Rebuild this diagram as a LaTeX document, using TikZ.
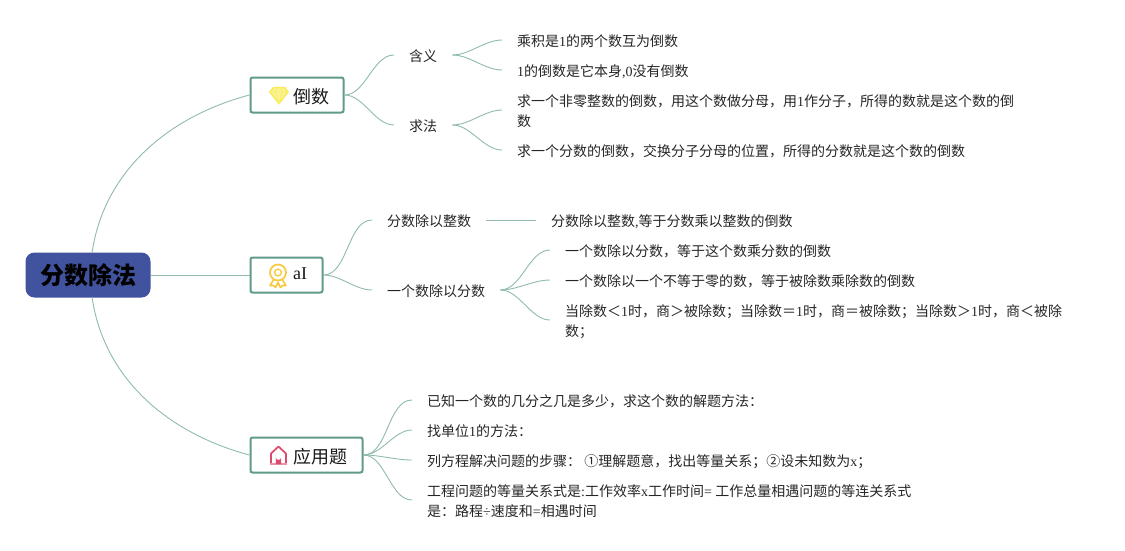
\documentclass[tikz,border=0pt]{standalone}
\usepackage{fontspec}
\setmainfont{Noto Sans CJK SC}
\newfontfamily\latfont{Liberation Serif}
\newcommand\la[1]{{\latfont #1}}
\definecolor{conn}{HTML}{8FBBAD}
\definecolor{boxline}{HTML}{5F9A8A}
\definecolor{rootfill}{HTML}{41539F}
\definecolor{gem}{HTML}{F8EC50}
\definecolor{medal}{HTML}{F8C93C}
\definecolor{house}{HTML}{DC4A6E}
\tikzset{
  txt/.style={font=\fontsize{14}{20}\selectfont,inner xsep=15pt,inner ysep=0pt,anchor=west,align=left,text=black!85},
  topic/.style={draw=boxline,line width=2pt,rounded corners=2pt,fill=white,minimum height=35pt,inner sep=0pt},
  rootbox/.style={fill=rootfill,rounded corners=9pt,minimum width=125pt,minimum height=45pt,inner sep=0pt,font=\fontsize{24}{26}\selectfont\bfseries,text=black},
  toplabel/.style={font=\fontsize{18}{20}\selectfont,anchor=west,inner sep=0pt,text=black!90},
  cn/.style={draw=conn,line width=0.9pt},
  s/.style={out=0,in=180,looseness=0.85}
}
\begin{document}
\begin{tikzpicture}[x=1pt,y=-1pt]
\useasboundingbox (0,0) rectangle (1125,550);
\node[rootbox] (root) at (88,275) {\raisebox{-1.5pt}{分数除法}};
\coordinate (rn) at (92,253);
\coordinate (rs) at (92,297);
\node[topic,minimum width=93pt] (t1) at (297,95) {};
\node[topic,minimum width=72pt] (t2) at (286.5,275) {};
\node[topic,minimum width=112pt] (t3) at (306.5,455) {};
\node[toplabel] (t1l) at (293,96.5) {倒数};
\node[toplabel] (t2l) at (293,273.5) {\latfont aI};
\node[toplabel] (t3l) at (293,456.5) {应用题};
% icons
\begin{scope}[shift={(279,95)}]
\draw[gem,line width=1.5pt,line join=round,fill=gem!60] (-5.5,-7.5) -- (5.5,-7.5) -- (9,-3) -- (0,8.5) -- (-9,-3) -- cycle;
\draw[gem!85!white,line width=0.9pt] (-9,-3) -- (9,-3) (-3.5,-3) -- (0,8.5) -- (3.5,-3) (-3.5,-3) -- (-1.5,-7.5) (3.5,-3) -- (1.5,-7.5);
\end{scope}
\begin{scope}[shift={(278,275)}]
\draw[medal,line width=1.6pt,line join=round] (-4,4) -- (-8,10.5) -- (-4.5,10.5) -- (-2.5,12.5) -- (0,7.5) -- (2.5,12.5) -- (4.5,10.5) -- (8,10.5) -- (4,4);
\draw[medal,line width=1.7pt,fill=white] (0,-2.5) circle (8);
\draw[medal,line width=1.3pt] (0,-2.5) circle (3.4);
\end{scope}
\begin{scope}[shift={(278.5,455)}]
\draw[house,line width=1.7pt,line join=round] (-7.5,8.5) -- (-7.5,-1.5) -- (0,-8.5) -- (7.5,-1.5) -- (7.5,8.5);
\draw[house!60,line width=1.7pt] (-8.3,8.8) -- (8.3,8.8);
\fill[house] (-2.6,9) -- (-2.6,2.4) arc[start angle=180,end angle=0,radius=2.6] -- (2.6,9) -- cycle;
\end{scope}
% level 2
\node[txt] (a1) at (394,56.5) {含义};
\node[txt] (a2) at (394,126.5) {求法};
\node[txt] (b1) at (372,221.5) {分数除以整数};
\node[txt] (b2) at (372,291.5) {一个数除以分数};
% leaves
\node[txt] (a11) at (502,41.5) {乘积是\la{1}的两个数互为倒数};
\node[txt] (a12) at (502,71.5) {\la{1}的倒数是它本身\la{,0}没有倒数};
\node[txt] (a21) at (502,111.5) {求一个非零整数的倒数，用这个数做分母，用\la{1}作分子，所得的数就是这个数的倒\\数};
\node[txt] (a22) at (502,151.5) {求一个分数的倒数，交换分子分母的位置，所得的分数就是这个数的倒数};
\node[txt] (b11) at (536,221.5) {分数除以整数\la{,}等于分数乘以整数的倒数};
\node[txt] (b21) at (550,251.5) {一个数除以分数，等于这个数乘分数的倒数};
\node[txt] (b22) at (550,281.5) {一个数除以一个不等于零的数，等于被除数乘除数的倒数};
\node[txt] (b23) at (550,321.5) {当除数＜\la{1}时，商＞被除数；当除数＝\la{1}时，商＝被除数；当除数＞\la{1}时，商＜被除\\数；};
\node[txt] (c1) at (412,401.5) {已知一个数的几分之几是多少，求这个数的解题方法：};
\node[txt] (c2) at (412,431.5) {找单位\la{1}的方法：};
\node[txt] (c3) at (412,461.5) {列方程解决问题的步骤： ①理解题意，找出等量关系；②设未知数为\la{x}；};
\node[txt] (c4) at (412,501.5) {工程问题的等量关系式是\la{:}工作效率\la{x}工作时间\la{= }工作总量相遇问题的等连关系式\\是：路程\la{÷}速度和\la{=}相遇时间};
% connectors
\draw[cn] (root.east) -- (t2.west);
\draw[cn] (rn) .. controls (104,170) and (170,116) .. (t1.west);
\draw[cn] (rs) .. controls (104,380) and (170,434) .. (t3.west);
\foreach \p/\c in {t1/a1,t1/a2,t2/b1,t2/b2}{\draw[cn] (\p.east) to[s] ([yshift=1.5pt]\c.west);}
\foreach \p/\c in {a1/a11,a1/a12,a2/a21,a2/a22,b2/b21,b2/b22,b2/b23}{\draw[cn] ([yshift=1.5pt]\p.east) to[s] ([yshift=1.5pt]\c.west);}
\foreach \c in {c1,c2,c3,c4}{\draw[cn] (t3.east) to[s] ([yshift=1.5pt]\c.west);}
\draw[cn] ([yshift=1.5pt]b1.east) -- ([yshift=1.5pt]b11.west);
\end{tikzpicture}
\end{document}
